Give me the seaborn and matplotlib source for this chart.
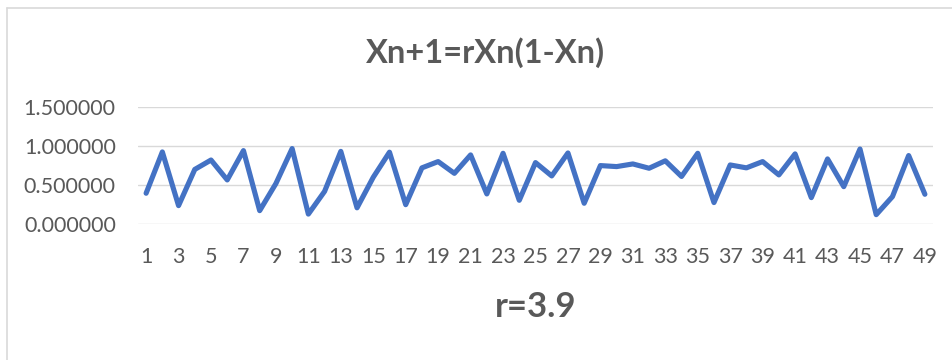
import matplotlib
matplotlib.use("Agg")
import matplotlib.pyplot as plt
from matplotlib.lines import Line2D
import seaborn as sns
import pandas as pd

# Iterates of the logistic map Xn+1 = r*Xn*(1-Xn), r = 3.9
n_values = list(range(1, 50))
x_values = [
    0.396, 0.923, 0.238, 0.700, 0.820, 0.566, 0.940, 0.174, 0.520, 0.966,
    0.130, 0.420, 0.930, 0.210, 0.600, 0.920, 0.250, 0.720, 0.800, 0.650,
    0.885, 0.387, 0.906, 0.306, 0.787, 0.617, 0.910, 0.268, 0.749, 0.736,
    0.770, 0.715, 0.810, 0.610, 0.906, 0.277, 0.757, 0.720, 0.800, 0.630,
    0.898, 0.340, 0.834, 0.480, 0.960, 0.123, 0.353, 0.877, 0.383,
]
y_ticks = [0.0, 0.5, 1.0, 1.5]
y_tick_labels = ["0.000000", "0.500000", "1.000000", "1.500000"]
title_text = "Xn+1=rXn(1-Xn)"
subtitle_text = "r=3.9"

df = pd.DataFrame({"n": n_values, "x": x_values})

sns.set_theme(style="white")
plt.rcParams["font.family"] = ["Lato", "DejaVu Sans"]

text_color = "#595959"
grid_color = "#D9D9D9"
line_color = "#4472C4"

fig = plt.figure(figsize=(9.52, 3.6), dpi=100)
ax = fig.add_axes([138 / 952, 1 - 224.3 / 360, (933 - 138) / 952, (224.3 - 106.7) / 360])

sns.lineplot(data=df, x="n", y="x", ax=ax, color=line_color, linewidth=3.7,
             solid_joinstyle="round", solid_capstyle="round", zorder=3)

ax.set_xlim(0.5, 49.5)
ax.set_ylim(0, 1.5)
ax.set_yticks(y_ticks)
ax.set_yticklabels(y_tick_labels)
ax.set_xticks(n_values[::2])
ax.set_xticklabels([str(v) for v in n_values[::2]])
ax.set_xlabel("")
ax.set_ylabel("")

for y in y_ticks:
    ax.axhline(y, color=grid_color, linewidth=1.0, zorder=1)

for spine in ax.spines.values():
    spine.set_visible(False)

ax.tick_params(axis="both", length=0, labelsize=15.5, labelcolor=text_color)
ax.tick_params(axis="x", pad=16)
ax.tick_params(axis="y", pad=16)

fig.text(486 / 952, 1 - 62.7 / 360, title_text, ha="center", va="baseline",
         fontsize=23.5, fontweight="bold", color=text_color)
fig.text(535.5 / 952, 1 - 316.7 / 360, subtitle_text, ha="center", va="baseline",
         fontsize=25, fontweight="bold", color=text_color)

# chart area border (top and left edges)
fig.add_artist(Line2D([7 / 952, 1.0], [1 - 7.5 / 360, 1 - 7.5 / 360],
                      transform=fig.transFigure, color=grid_color, linewidth=1.2))
fig.add_artist(Line2D([7 / 952, 7 / 952], [0.0, 1 - 7.5 / 360],
                      transform=fig.transFigure, color=grid_color, linewidth=1.2))

fig.savefig("out.png", dpi=100, facecolor="white")
